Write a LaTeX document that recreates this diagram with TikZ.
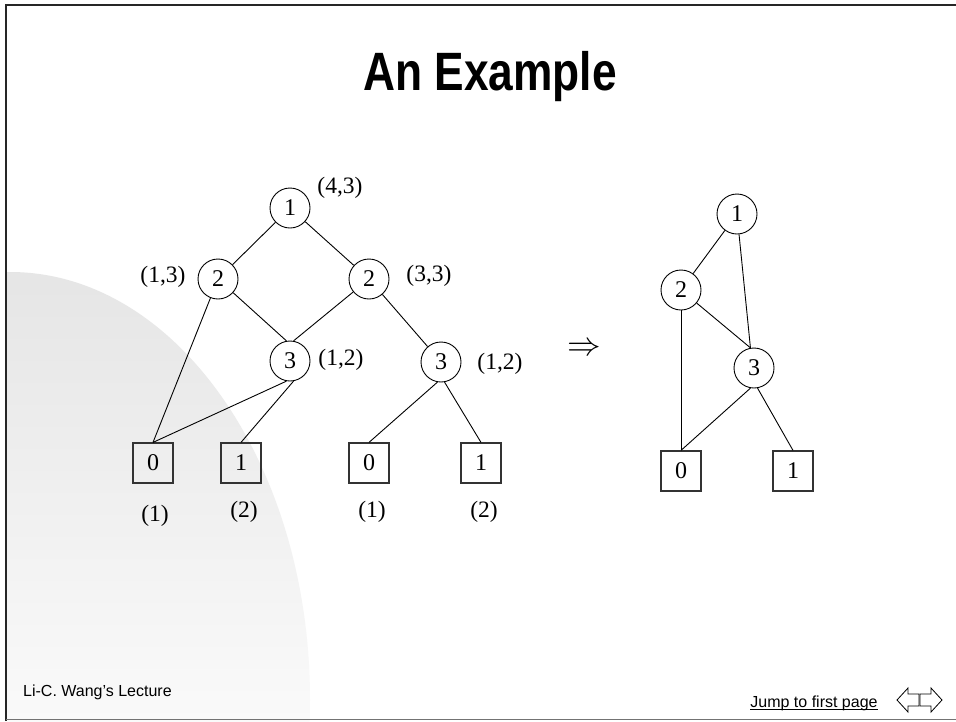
\documentclass[tikz,border=0pt]{standalone}
\usepackage{fontspec}
\usepackage{graphicx}
\setmainfont{Liberation Serif}
\newfontfamily\sansfont{Liberation Sans}
\begin{document}
\begin{tikzpicture}[x=1pt,y=-1pt,
  circ/.style={circle,draw,minimum size=40pt,inner sep=0pt,line width=0.9pt,font=\fontsize{24}{26}\selectfont},
  leaf/.style={rectangle,draw=black!80,minimum size=40pt,inner sep=0pt,line width=1.2pt,font=\fontsize{24}{26}\selectfont},
  lbl/.style={inner sep=0pt,font=\fontsize{23.5}{26}\selectfont},
  edge/.style={line width=0.9pt},
  navarrow/.style={line width=0.8pt,fill=white},
  foot/.style={inner sep=0pt,font=\sansfont\fontsize{16}{18}\selectfont}]
\useasboundingbox (0,0) rectangle (956,721);
\fill[white] (0,0) rectangle (956,721);
% background quarter-ellipse
\begin{scope}
  \clip (7,0) rectangle (956,721);
  \clip (10,700) ellipse [x radius=300pt, y radius=428pt];
  \shade[top color=black!10,bottom color=black!2] (0,272) rectangle (320,721);
\end{scope}
% frame
\draw[black!85,line width=2pt] (6,721) -- (6,4.5) -- (956,4.5);
\draw[black!55,line width=1pt] (6,719) -- (956,719);
% title
\node[inner sep=0pt,anchor=base,font=\sansfont\bfseries\fontsize{54}{60}\selectfont] (title) at (490,90) {\scalebox{0.82}[1]{An Example}};
% left tree
\node[circ] (n1) at (290,208) {1};
\node[circ] (n2L) at (218,279) {2};
\node[circ] (n2R) at (369,279) {2};
\node[circ] (n3L) at (290,361) {3};
\node[circ] (n3R) at (441,362) {3};
\node[leaf] (b0L) at (153,463) {0};
\node[leaf] (b1L) at (241,463) {1};
\node[leaf] (b0R) at (369,463) {0};
\node[leaf] (b1R) at (481,463) {1};
\node[lbl] (l1) at (340,188) {(4,3)};
\node[lbl] (l2) at (163,277) {(1,3)};
\node[lbl] (l3) at (429,276) {(3,3)};
\node[lbl] (l4) at (341,360) {(1,2)};
\node[lbl] (l5) at (500,364) {(1,2)};
\node[lbl] (c1) at (155,516) {(1)};
\node[lbl] (c2) at (244,512) {(2)};
\node[lbl] (c3) at (372,512) {(1)};
\node[lbl] (c4) at (484,512) {(2)};
\draw[edge] (n1) -- (n2L);
\draw[edge] (n1) -- (n2R);
\draw[edge] (n2L) -- (b0L.north);
\draw[edge] (n2L) -- (n3L.100);
\draw[edge] (n2R) -- (n3L.80);
\draw[edge] (n2R) -- (n3R);
\draw[edge] (n3L.-100) -- (b0L.north);
\draw[edge] (n3L.-80) -- (b1L.north);
\draw[edge] (n3R.-100) -- (b0R.north);
\draw[edge] (n3R.-80) -- (b1R.north);
% implies
\node[lbl] (imp) at (584,349) {\scalebox{1.35}{$\Rightarrow$}};
% right graph
\node[circ] (r1) at (737,214) {1};
\node[circ] (r2) at (681,290) {2};
\node[circ] (r3) at (754,368) {3};
\node[leaf] (rb0) at (681,471) {0};
\node[leaf] (rb1) at (793,471) {1};
\draw[edge] (r1) -- (r2);
\draw[edge] (r1) -- (r3.100);
\draw[edge] (r2) -- (r3.100);
\draw[edge] (r2) -- (rb0.north);
\draw[edge] (r3.-100) -- (rb0.north);
\draw[edge] (r3.-80) -- (rb1.north);
% footer
\node[foot,anchor=base west] (lect) at (23,696) {Li-C. Wang’s Lecture};
\node[foot,anchor=base] (jump) at (814,707) {Jump to first page};
\draw[line width=0.8pt] ([yshift=-2pt]jump.base west) -- ([yshift=-2pt]jump.base east);
\draw[navarrow] (897,700) -- (908,688) -- (908,694) -- (919,694) -- (919,706) -- (908,706) -- (908,712) -- cycle;
\draw[navarrow] (942,700) -- (931,688) -- (931,694) -- (920,694) -- (920,706) -- (931,706) -- (931,712) -- cycle;
\end{tikzpicture}
\end{document}
